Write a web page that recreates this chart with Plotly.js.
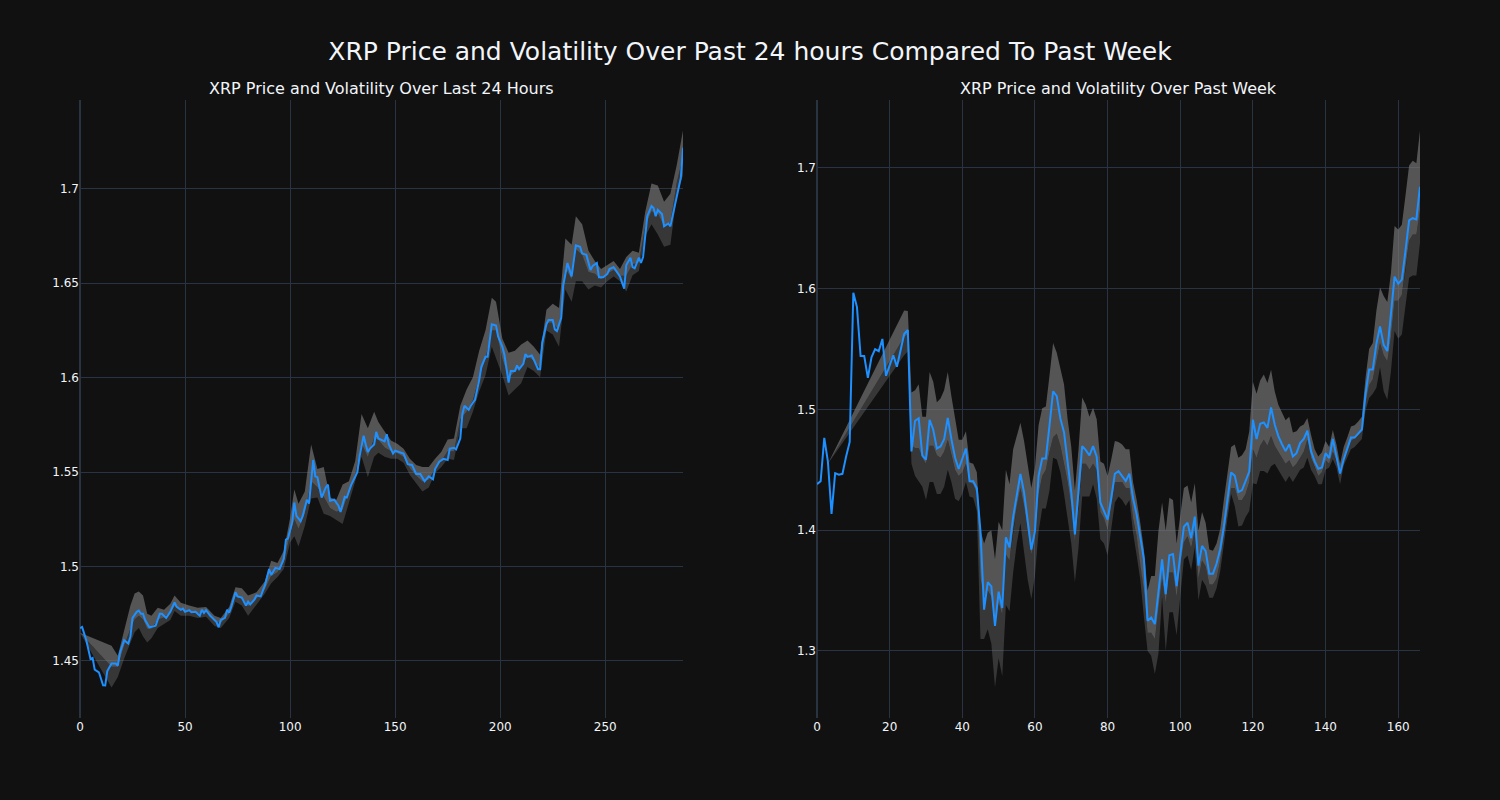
<!DOCTYPE html>
<html>
<head>
<meta charset="utf-8">
<script src="https://cdn.plot.ly/plotly-3.0.1.min.js"></script>
<style>html,body{margin:0;padding:0;background:#111111;}#chart{width:1500px;height:800px;}</style>
</head>
<body>
<div id="chart"></div>
<script>
// ---- Last 24 hours (5-minute steps) ----
const dayX = [0,1,3,5,6,7,9,11,12,13,15,17,18,19,21,23,24,25,27,28,29,30,31,33,35,36,38,39,41,43,45,46,48,49,50,52,53,55,57,58,59,60,62,63,65,66,67,69,70,71,72,74,75,77,79,80,81,83,84,86,88,90,91,93,95,97,98,99,101,102,103,105,106,108,109,111,112,113,115,117,118,119,121,123,124,126,127,129,132,133,135,136,137,138,140,141,142,145,146,147,149,150,152,154,156,158,160,162,164,165,166,168,169,171,173,175,176,178,179,181,182,183,185,186,188,190,191,193,194,196,198,199,201,202,204,205,207,208,209,211,212,213,215,216,218,219,220,222,223,225,226,227,229,230,232,234,236,238,239,241,243,244,246,247,249,251,252,254,256,257,259,260,262,263,264,266,267,268,270,272,273,274,275,277,278,280,281,283,284,286,287];
const dayPrice = [1.4674,1.468,1.461,1.451,1.4516,1.4454,1.444,1.4371,1.437,1.4447,1.4486,1.4486,1.4475,1.4544,1.461,1.4592,1.463,1.4728,1.476,1.4767,1.475,1.475,1.4717,1.4678,1.4683,1.4687,1.475,1.475,1.4728,1.476,1.481,1.4786,1.4771,1.4777,1.476,1.4769,1.4758,1.476,1.4739,1.4771,1.4754,1.4769,1.4739,1.4728,1.4706,1.4678,1.4717,1.4728,1.4771,1.4756,1.4786,1.4864,1.4842,1.4836,1.4793,1.4814,1.4799,1.4825,1.4847,1.4842,1.49,1.4987,1.4955,1.4993,1.4987,1.5041,1.5143,1.5149,1.5235,1.5339,1.5268,1.524,1.5268,1.5354,1.5333,1.5564,1.5477,1.5473,1.5365,1.5419,1.5434,1.5348,1.5354,1.5322,1.5289,1.5369,1.5365,1.543,1.5499,1.5581,1.5693,1.5646,1.5607,1.5624,1.5646,1.5713,1.5678,1.5663,1.57,1.5646,1.5598,1.5613,1.5607,1.5598,1.5542,1.5538,1.549,1.549,1.5451,1.5462,1.5477,1.5462,1.5516,1.5555,1.557,1.5564,1.5624,1.5629,1.562,1.5678,1.5808,1.5851,1.5829,1.5851,1.5883,1.5987,1.6056,1.611,1.611,1.6283,1.6276,1.6218,1.6164,1.6121,1.5974,1.6035,1.6035,1.6065,1.6045,1.6073,1.6125,1.611,1.6117,1.6095,1.6045,1.6045,1.6186,1.6283,1.6305,1.6305,1.6255,1.6246,1.6315,1.6488,1.6607,1.6536,1.67,1.6693,1.6657,1.665,1.657,1.6592,1.6607,1.6531,1.6531,1.6549,1.6575,1.6585,1.6549,1.6536,1.6471,1.6596,1.6635,1.6585,1.6579,1.6635,1.6607,1.6639,1.6855,1.6909,1.6898,1.6855,1.6888,1.6866,1.6801,1.6816,1.6801,1.6898,1.6963,1.706,1.7217];

const dayBandX = [0,15,18,21,24,26,28,30,32,34,37,40,43,45,48,52,56,60,64,67,71,74,77,80,84,88,91,94,97,100,102,104,107,110,113,116,119,122,125,128,131,134,137,140,142,145,148,151,154,157,160,163,166,169,172,175,178,181,184,187,190,193,196,198,201,204,207,210,213,216,219,222,225,228,231,234,236,239,242,245,248,251,254,257,260,263,266,269,272,275,278,281,284,287];
const dayUpper = [1.465,1.458,1.4527,1.4663,1.4793,1.4857,1.4868,1.4847,1.475,1.4739,1.4782,1.4771,1.4803,1.4847,1.4808,1.4793,1.4782,1.4786,1.4739,1.4728,1.4786,1.489,1.4885,1.4847,1.4864,1.4922,1.503,1.5019,1.5084,1.5257,1.5408,1.5333,1.5397,1.5646,1.5516,1.5527,1.5365,1.5354,1.5434,1.5451,1.5559,1.5808,1.5732,1.5819,1.5765,1.5715,1.5667,1.565,1.5624,1.557,1.5538,1.5527,1.5527,1.557,1.5607,1.5672,1.5678,1.5851,1.5937,1.6002,1.6143,1.6251,1.6423,1.6402,1.6207,1.6132,1.6143,1.6175,1.6197,1.6164,1.6121,1.6359,1.6391,1.6369,1.6737,1.6704,1.6855,1.6812,1.6672,1.6618,1.6575,1.6596,1.6618,1.6575,1.6639,1.6672,1.6661,1.6877,1.7028,1.7017,1.6931,1.6974,1.7125,1.7309];
const dayMid = [1.465,1.447,1.447,1.458,1.467,1.472,1.474,1.472,1.467,1.467,1.472,1.473,1.476,1.479,1.477,1.476,1.475,1.476,1.471,1.470,1.475,1.484,1.483,1.479,1.483,1.488,1.495,1.497,1.502,1.517,1.525,1.520,1.528,1.545,1.542,1.537,1.531,1.529,1.530,1.539,1.549,1.565,1.558,1.568,1.567,1.563,1.561,1.560,1.558,1.552,1.548,1.545,1.546,1.552,1.556,1.561,1.561,1.578,1.582,1.588,1.600,1.610,1.625,1.625,1.610,1.600,1.603,1.606,1.611,1.609,1.605,1.629,1.629,1.625,1.658,1.652,1.668,1.665,1.656,1.655,1.652,1.655,1.657,1.654,1.654,1.660,1.661,1.680,1.688,1.687,1.680,1.682,1.703,1.717];
const dayLower = [1.465,1.436,1.4415,1.4512,1.4598,1.4652,1.4674,1.463,1.4598,1.462,1.4674,1.4695,1.4717,1.4765,1.4739,1.4739,1.4728,1.4734,1.4685,1.4674,1.4728,1.4814,1.4793,1.4739,1.4799,1.4857,1.4911,1.4944,1.4987,1.5127,1.516,1.5106,1.5214,1.536,1.5365,1.5279,1.5268,1.5246,1.5225,1.5343,1.5451,1.5581,1.5473,1.5581,1.5603,1.5581,1.557,1.557,1.5549,1.5484,1.5441,1.5397,1.5419,1.5495,1.5527,1.557,1.5564,1.5732,1.5732,1.5819,1.5927,1.6013,1.6164,1.611,1.6013,1.5905,1.5937,1.597,1.6056,1.6035,1.6002,1.625,1.6229,1.6164,1.6467,1.6402,1.651,1.651,1.6467,1.6488,1.6477,1.651,1.6536,1.651,1.6456,1.6542,1.6564,1.6747,1.6812,1.6758,1.6693,1.6704,1.6963,1.7071];

// ---- Past week (hourly steps) ----
const weekPrice = [1.4382,1.4406,1.4765,1.4568,1.4135,1.4473,1.446,1.4467,1.4609,1.4731,1.5967,1.5848,1.5442,1.5442,1.5262,1.5432,1.55,1.5483,1.5584,1.5279,1.5364,1.5449,1.5354,1.55,1.5625,1.5659,1.4653,1.4907,1.4927,1.4619,1.4585,1.4914,1.4832,1.4677,1.4694,1.4754,1.4931,1.4754,1.4602,1.4507,1.4602,1.4677,1.4406,1.4406,1.4348,1.3992,1.3342,1.3569,1.3535,1.3207,1.3491,1.3356,1.3942,1.3857,1.4111,1.4297,1.4467,1.4314,1.406,1.384,1.3992,1.445,1.4595,1.4595,1.4866,1.5151,1.511,1.4924,1.4812,1.4551,1.4314,1.3965,1.4314,1.4697,1.4663,1.4619,1.4697,1.4609,1.423,1.4162,1.4088,1.4265,1.4468,1.449,1.4452,1.4408,1.4469,1.4266,1.413,1.3961,1.3758,1.325,1.3277,1.3223,1.3487,1.3758,1.347,1.3792,1.3802,1.3538,1.3792,1.4029,1.4063,1.3934,1.4113,1.3707,1.387,1.3826,1.364,1.364,1.3724,1.3843,1.4029,1.4249,1.4479,1.4452,1.4316,1.4333,1.4408,1.4486,1.4915,1.4756,1.4882,1.4892,1.4848,1.5017,1.4875,1.478,1.4712,1.4655,1.4712,1.4611,1.4638,1.4722,1.4756,1.4824,1.4655,1.457,1.4509,1.4519,1.4638,1.4597,1.4756,1.4621,1.4469,1.4587,1.4679,1.4767,1.4767,1.48,1.4834,1.5129,1.5332,1.5332,1.5545,1.5687,1.5535,1.5484,1.5788,1.61,1.6042,1.6076,1.6313,1.6567,1.6584,1.6574,1.6844];

const weekBandX = [3,24,25,26,27,28,29,30,31,32,33,34,35,36,37,38,39,40,41,42,43,44,45,46,47,48,49,50,51,52,53,54,55,56,57,58,59,60,61,62,63,64,65,66,67,68,69,70,71,72,73,74,75,76,77,78,79,80,81,82,83,84,85,86,87,88,89,90,91,92,93,94,95,96,97,98,99,100,101,102,103,104,105,106,107,108,109,110,111,112,113,114,115,116,117,118,119,120,121,122,123,124,125,126,127,128,129,130,131,132,133,134,135,136,137,138,139,140,141,142,143,144,145,146,147,148,149,150,151,152,153,154,155,156,157,158,159,160,161,162,163,164,165,166];
const weekUpper = [1.455,
1.582,1.5815,1.514,1.516,1.521,1.494,1.494,1.531,1.523,1.506,
1.509,1.516,1.531,1.511,1.494,1.475,1.475,1.482,1.456,1.455,
1.448,1.40,1.389,1.398,1.40,1.376,1.407,1.40,1.45,1.438,
1.467,1.479,1.489,1.474,1.453,1.435,1.452,1.487,1.501,1.5025,
1.528,1.555,1.547,1.535,1.521,1.492,1.469,1.433,1.467,1.510,
1.504,1.494,1.5015,1.492,1.457,1.455,1.445,1.4585,1.474,1.473,
1.471,1.467,1.467,1.44,1.425,1.406,1.384,1.350,1.362,1.362,
1.3995,1.423,1.3995,1.427,1.425,1.389,1.413,1.435,1.437,1.423,
1.439,1.3995,1.415,1.406,1.384,1.383,1.389,1.401,1.425,1.447,
1.469,1.471,1.46,1.462,1.467,1.482,1.523,1.513,1.524,1.529,
1.522,1.533,1.515,1.504,1.498,1.491,1.494,1.481,1.482,1.486,
1.4875,1.493,1.479,1.467,1.461,1.4645,1.474,1.469,1.483,1.471,
1.455,1.469,1.477,1.486,1.487,1.490,1.494,1.526,1.550,1.555,
1.582,1.601,1.594,1.589,1.613,1.652,1.649,1.653,1.677,1.702,
1.706,1.704,1.731];
const weekMid = [1.455,
1.56,1.562,1.47,1.468,1.468,1.46,1.455,1.47,1.47,1.462,
1.46,1.465,1.475,1.462,1.45,1.445,1.448,1.455,1.44,1.438,
1.43,1.36,1.345,1.35,1.345,1.32,1.34,1.33,1.38,1.375,
1.40,1.42,1.435,1.42,1.40,1.38,1.395,1.43,1.445,1.45,
1.465,1.477,1.48,1.47,1.455,1.44,1.42,1.39,1.42,1.455,
1.455,1.45,1.455,1.45,1.415,1.41,1.40,1.42,1.44,1.44,
1.44,1.435,1.435,1.41,1.395,1.375,1.35,1.315,1.315,1.31,
1.335,1.36,1.34,1.365,1.365,1.345,1.37,1.39,1.395,1.385,
1.40,1.36,1.375,1.37,1.355,1.355,1.36,1.375,1.395,1.415,
1.435,1.435,1.425,1.425,1.43,1.44,1.467,1.46,1.47,1.475,
1.47,1.478,1.47,1.465,1.46,1.455,1.458,1.452,1.455,1.46,
1.465,1.475,1.46,1.452,1.445,1.448,1.458,1.455,1.465,1.458,
1.445,1.458,1.466,1.474,1.476,1.479,1.482,1.505,1.52,1.525,
1.54,1.555,1.545,1.54,1.56,1.59,1.59,1.595,1.615,1.64,
1.645,1.645,1.665];
const weekLower = [1.455,
1.545,1.548,1.455,1.445,1.44,1.436,1.425,1.44,1.44,1.43,
1.43,1.436,1.45,1.44,1.426,1.424,1.43,1.44,1.428,1.427,
1.416,1.31,1.31,1.318,1.306,1.27,1.294,1.279,1.338,1.333,
1.365,1.389,1.406,1.382,1.359,1.343,1.362,1.399,1.418,1.418,
1.433,1.46,1.4585,1.448,1.43,1.411,1.389,1.357,1.386,1.428,
1.428,1.428,1.438,1.426,1.3925,1.389,1.379,1.40,1.423,1.428,
1.425,1.42,1.425,1.398,1.379,1.359,1.328,1.30,1.296,1.281,
1.298,1.345,1.30,1.332,1.332,1.313,1.345,1.376,1.379,1.367,
1.386,1.342,1.359,1.354,1.344,1.344,1.352,1.366,1.386,1.41,
1.43,1.42,1.403,1.404,1.411,1.416,1.439,1.438,1.449,1.449,
1.447,1.453,1.455,1.45,1.445,1.44,1.445,1.44,1.445,1.45,
1.452,1.46,1.45,1.445,1.438,1.438,1.45,1.452,1.4587,1.452,
1.438,1.4536,1.46,1.467,1.469,1.472,1.4756,1.499,1.5095,1.513,
1.518,1.535,1.515,1.508,1.5315,1.565,1.5585,1.562,1.5856,1.609,
1.611,1.611,1.638];

const weekX = weekPrice.map((_, i) => i);

const mainTitle = 'XRP Price and Volatility Over Past 24 hours Compared To Past Week';
const dayTitle = 'XRP Price and Volatility Over Last 24 Hours';
const weekTitle = 'XRP Price and Volatility Over Past Week';

function poly(x, top, bottom) {
  return {
    x: x.concat(x.slice().reverse()),
    y: top.concat(bottom.slice().reverse())
  };
}

function bandTraces(x, up, mid, lo, xa, ya) {
  const a = poly(x, up, mid), b = poly(x, mid, lo);
  return [
    {type:'scatter', mode:'lines', x:a.x, y:a.y, fill:'toself', fillcolor:'rgba(128,128,128,0.62)', line:{width:0}, hoverinfo:'skip', xaxis:xa, yaxis:ya},
    {type:'scatter', mode:'lines', x:b.x, y:b.y, fill:'toself', fillcolor:'rgba(128,128,128,0.34)', line:{width:0}, hoverinfo:'skip', xaxis:xa, yaxis:ya}
  ];
}

const data = [].concat(
  bandTraces(dayBandX, dayUpper, dayMid, dayLower, 'x', 'y'),
  [{type:'scatter', mode:'lines', x:dayX, y:dayPrice, line:{color:'#1e90ff', width:2}, xaxis:'x', yaxis:'y'}],
  bandTraces(weekBandX, weekUpper, weekMid, weekLower, 'x2', 'y2'),
  [{type:'scatter', mode:'lines', x:weekX, y:weekPrice, line:{color:'#1e90ff', width:2}, xaxis:'x2', yaxis:'y2'}]
);

const axisBase = {gridcolor:'#283442', zerolinecolor:'#283442', zerolinewidth:2, showline:false, ticks:'', tickfont:{size:12, color:'#f2f5fa'}};

const layout = {
  width:1500, height:800,
  paper_bgcolor:'#111111', plot_bgcolor:'#111111',
  font:{family:'"DejaVu Sans", sans-serif', color:'#f2f5fa', size:12},
  title:{text:mainTitle, x:0.5, xanchor:'center', y:0.936, yanchor:'middle', font:{size:25, color:'#f2f5fa'}},
  margin:{l:80, r:80, t:100, b:82},
  showlegend:false,
  xaxis:Object.assign({}, axisBase, {domain:[0,0.45], range:[0,287], dtick:50, anchor:'y'}),
  yaxis:Object.assign({}, axisBase, {domain:[0,1], range:[1.4198,1.747], dtick:0.05, anchor:'x'}),
  xaxis2:Object.assign({}, axisBase, {domain:[0.55,1], range:[0,166], dtick:20, anchor:'y2'}),
  yaxis2:Object.assign({}, axisBase, {domain:[0,1], range:[1.2445,1.7563], dtick:0.1, anchor:'x2'}),
  annotations:[
    {text:dayTitle, xref:'paper', yref:'paper', x:0.225, y:1, xanchor:'center', yanchor:'bottom', showarrow:false, font:{size:16, color:'#f2f5fa'}},
    {text:weekTitle, xref:'paper', yref:'paper', x:0.775, y:1, xanchor:'center', yanchor:'bottom', showarrow:false, font:{size:16, color:'#f2f5fa'}}
  ]
};

Plotly.newPlot('chart', data, layout, {displayModeBar:false, staticPlot:true});
</script>
</body>
</html>
